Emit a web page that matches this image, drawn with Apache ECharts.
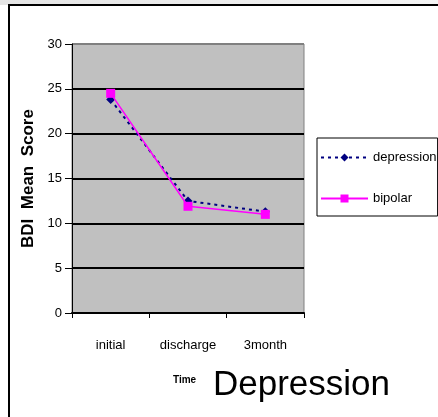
<!DOCTYPE html>
<html>
<head>
<meta charset="utf-8">
<script src="https://cdn.jsdelivr.net/npm/echarts@6/dist/echarts.min.js"></script>
<style>
html,body{margin:0;padding:0;background:#fff;}
#c{width:438px;height:417px;}
</style>
</head>
<body>
<div id="c"></div>
<script>
var categories = ['initial', 'discharge', '3month'];
var depression = [23.8, 12.5, 11.3];
var bipolar = [24.5, 11.9, 11.0];
var seriesNames = ['depression', 'bipolar'];
var yAxisName = 'BDI  Mean  Score';
var xAxisName = 'Time';
var titleText = 'Depression';

var sans = '"Liberation Sans", Arial, sans-serif';
var chart = echarts.init(document.getElementById('c'));
chart.setOption({
  animation: false,
  backgroundColor: '#fff',
  grid: {
    left: 72, top: 44, width: 232, height: 269,
    show: true, backgroundColor: '#c0c0c0', borderColor: '#808080', borderWidth: 1
  },
  xAxis: {
    type: 'category', data: categories, boundaryGap: true,
    axisLine: {lineStyle: {color: '#000', width: 2}},
    axisTick: {show: true, length: 5, interval: 0, lineStyle: {color: '#000', width: 1}},
    axisLabel: {color: '#000', fontFamily: sans, fontSize: 13, margin: 26, interval: 0},
    splitLine: {show: false}
  },
  yAxis: {
    type: 'value', min: 0, max: 30, interval: 5,
    name: yAxisName, nameLocation: 'middle', nameGap: 27,
    nameTextStyle: {color: '#000', fontFamily: sans, fontWeight: 'bold', fontSize: 17},
    axisLine: {show: true, lineStyle: {color: '#000', width: 1}},
    axisTick: {show: true, length: 7, lineStyle: {color: '#000', width: 1}},
    axisLabel: {color: '#000', fontFamily: sans, fontSize: 13, margin: 10},
    splitLine: {show: true, lineStyle: {color: ['#000','#000','#000','#000','#000','#000','#808080'], width: 2}}
  },
  legend: {
    orient: 'vertical', left: 317, top: 138,
    padding: [13, 1, 11, 3], itemGap: 28, itemWidth: 47, itemHeight: 10,
    borderColor: '#000', borderWidth: 1, backgroundColor: '#fff',
    textStyle: {color: '#000', fontFamily: sans, fontSize: 13},
    data: seriesNames
  },
  series: [
    {
      name: seriesNames[0], type: 'line', data: depression,
      symbol: 'diamond', symbolSize: 9,
      lineStyle: {color: '#000080', width: 2, type: [3, 4]},
      itemStyle: {color: '#000080'}, z: 3
    },
    {
      name: seriesNames[1], type: 'line', data: bipolar,
      symbol: 'rect', symbolSize: 9,
      lineStyle: {color: '#ff00ff', width: 1.5, type: 'solid'},
      itemStyle: {color: '#ff00ff'}, z: 4
    }
  ],
  graphic: [
    {type: 'rect', left: 0, top: 0, z: -10, shape: {width: 438, height: 5},
     style: {fill: new echarts.graphic.LinearGradient(0, 0, 1, 0, [{offset: 0, color: '#e4e4e4'}, {offset: 1, color: '#f4f4f4'}])}},
    {type: 'rect', z: 100, shape: {x: 9, y: 5, width: 440, height: 420},
     style: {fill: null, stroke: '#000', lineWidth: 2}},
    {type: 'text', z: 100, x: 173, y: 380,
     style: {text: xAxisName, fill: '#000', font: 'bold 10px ' + sans, verticalAlign: 'middle'}},
    {type: 'text', z: 100, x: 213, y: 385,
     style: {text: titleText, fill: '#000', font: '35px ' + sans, verticalAlign: 'middle'}}
  ]
});
</script>
</body>
</html>
